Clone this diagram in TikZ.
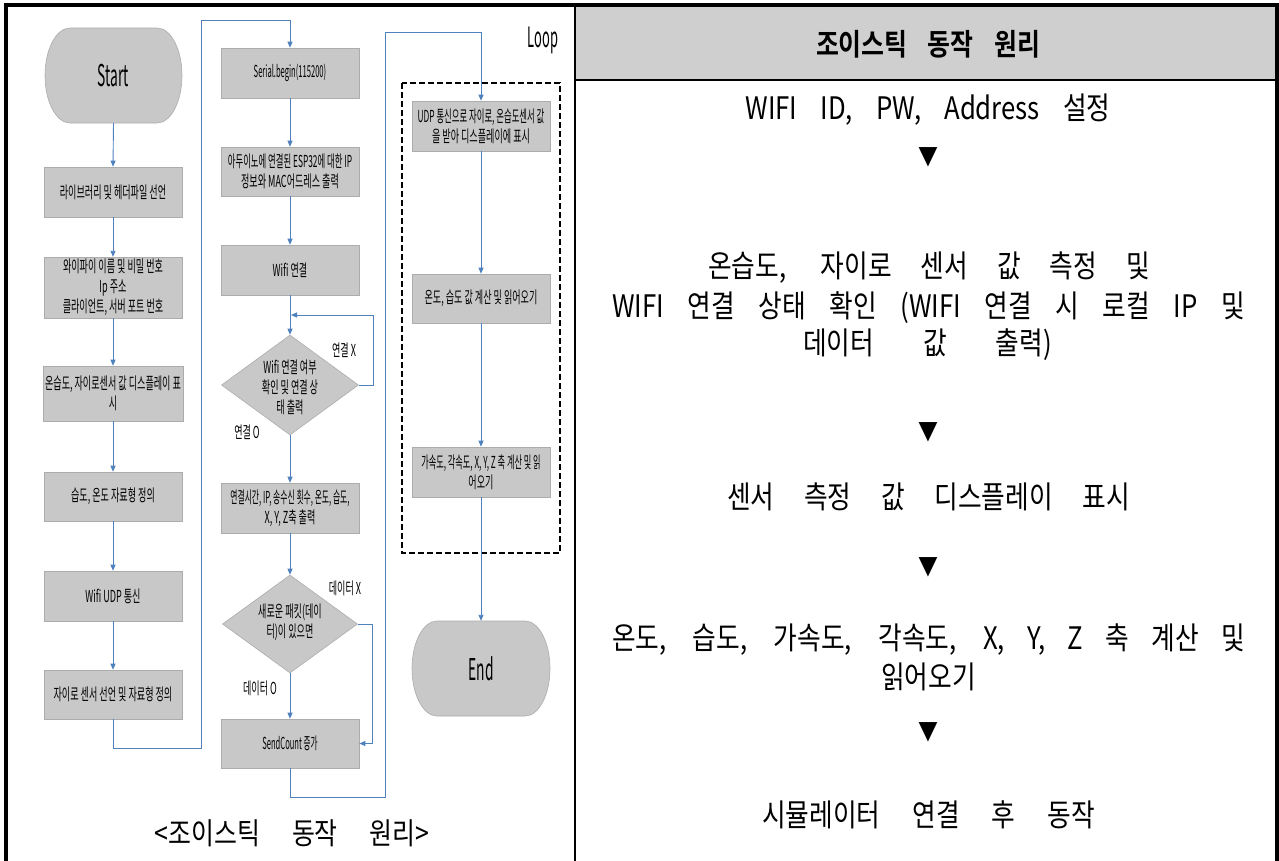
\documentclass[tikz,border=0pt]{standalone}
\usepackage{fontspec}
\usetikzlibrary{arrows.meta,shapes.geometric}
\newfontfamily\rfont[FakeStretch=0.83]{Noto Sans CJK KR}
\newfontfamily\rbold[FakeStretch=0.83]{Noto Sans CJK KR Bold}
\newfontfamily\fcfont[FakeStretch=0.55]{Noto Sans CJK KR}
\newfontfamily\fclat[FakeStretch=0.46]{Noto Sans CJK KR}
\definecolor{hdrgray}{RGB}{207,207,207}
\definecolor{boxgray}{RGB}{200,200,200}
\definecolor{boxedge}{RGB}{172,172,172}
\definecolor{conblue}{RGB}{79,129,189}
\newcommand{\jline}[2]{\makebox[#1pt][s]{#2}}
\tikzset{
  fcbox/.style={rectangle, fill=boxgray, draw=boxedge, line width=0.6pt,
    minimum width=138pt, minimum height=50pt, inner sep=2pt, align=center,
    font=\fcfont\fontsize{16.5}{20}\selectfont},
  fcshape/.style={fill=boxgray, draw=boxedge, line width=0.6pt},
  dia/.style={diamond, fill=boxgray, draw=boxedge, line width=0.6pt, inner sep=0pt},
  fctext/.style={align=center, inner sep=0pt, font=\fcfont\fontsize{16.5}{20}\selectfont},
  bigtext/.style={inner sep=0pt, font=\fclat\fontsize{30}{32}\selectfont},
  conn/.style={draw=conblue, line width=0.9pt, -{Triangle[length=6pt,width=5pt]}},
  rtext/.style={inner sep=0pt, font=\rfont\fontsize{31}{34}\selectfont},
  rtri/.style={inner sep=0pt, font=\rfont\fontsize{24}{26}\selectfont},
}
\begin{document}
\begin{tikzpicture}[x=1pt,y=-1pt]
\useasboundingbox (0,0) rectangle (1279,860);
% frame
\fill[hdrgray] (575,5) rectangle (1277,80);
\draw[line width=2pt] (575,80) -- (1277,80);
\draw[line width=2pt] (575,5) -- (575,862);
\draw[line width=3.5pt] (6,862) -- (6,5) -- (1277,5) -- (1277,862);

% ---------- column 1 ----------
\draw[fcshape] (70,28) -- (157,28) arc[start angle=-90,end angle=90,x radius=25,y radius=47.5]
  -- (70,123) arc[start angle=90,end angle=270,x radius=25,y radius=47.5] -- cycle;
\node[bigtext, minimum width=137pt, minimum height=95pt] (start) at (113.5,75.5) {Start};
\node[fcbox] (b1) at (113,192) {라이브러리 및 헤더파일 선언};
\node[fcbox, minimum height=55pt] (b2) at (113,287.5) {와이파이 이름 및 비밀 번호\\Ip 주소\\클라이언트, 서버 포트 번호};
\node[fcbox, minimum height=55pt] (b3) at (113,393.5) {온습도, 자이로센서 값 디스플레이 표\\시};
\node[fcbox, minimum height=49pt] (b4) at (113,496.5) {습도, 온도 자료형 정의};
\node[fcbox] (b5) at (113,596) {Wifi UDP 통신};
\node[fcbox, minimum height=49pt] (b6) at (113,694.5) {자이로 센서 선언 및 자료형 정의};

% ---------- column 2 ----------
\node[fcbox, font=\fclat\fontsize{16.5}{20}\selectfont] (c1) at (290,73) {Serial.begin(115200)};
\node[fcbox, minimum height=49pt] (c2) at (290,171.5) {\scalebox{0.92}[1]{아두이노에 연결된 ESP32에 대한 IP}\\정보와 MAC어드레스 출력};
\node[fcbox] (c3) at (290,270) {Wifi 연결};
\node[dia, minimum width=137pt, minimum height=100pt] (d1) at (290,385) {};
\node[fctext] (d1t) at (290,387) {Wifi 연결 여부\\확인 및 연결 상\\태 출력};
\node[fcbox] (c4) at (290,508) {\scalebox{0.86}[1]{연결시간, IP, 송수신 횟수, 온도, 습도,}\\X, Y, Z축 출력};
\node[dia, minimum width=135pt, minimum height=98pt] (d2) at (290,624) {};
\node[fctext] (d2t) at (290,622) {새로운 패킷(데이\\터)이 있으면};
\node[fcbox, minimum height=49pt, font=\fclat\fontsize{16.5}{20}\selectfont] (c5) at (290,743.5) {SendCount 증가};
\node[fctext] (l1) at (344,350) {연결 X};
\node[fctext] (l2) at (247,432) {연결 O};
\node[fctext] (l3) at (345,588) {데이터 X};
\node[fctext] (l4) at (260,688) {데이터 O};

% ---------- column 3 ----------
\draw[line width=1.6pt, dash pattern=on 6pt off 3pt] (402,83) rectangle (560,553);
\node[inner sep=0pt, font=\fclat\fontsize{28}{30}\selectfont] (loop) at (543,40) {Loop};
\node[fcbox] (e1) at (481,126) {\scalebox{0.92}[1]{UDP 통신으로 자이로, 온습도센서 값}\\을 받아 디스플레이에 표시};
\node[fcbox, minimum height=49pt] (e2) at (481,298.5) {온도, 습도 값 계산 및 읽어오기};
\node[fcbox] (e3) at (481,472) {\scalebox{0.9}[1]{가속도, 각속도, X, Y, Z 축 계산 및 읽}\\어오기};
\draw[fcshape] (437,621) -- (525,621) arc[start angle=-90,end angle=90,x radius=25,y radius=47.5]
  -- (437,716) arc[start angle=90,end angle=270,x radius=25,y radius=47.5] -- cycle;
\node[bigtext, minimum width=138pt, minimum height=95pt] (endn) at (481,668.5) {End};

% ---------- connectors ----------
\coordinate (r1) at (201,748);
\coordinate (r2) at (201,20);
\coordinate (r3) at (373,315);
\coordinate (j1) at (291,315);
\coordinate (r4) at (372,624);
\coordinate (r5) at (385,797);
\coordinate (r6) at (385,32);
\draw[conn] (start.south) -- (b1.north);
\draw[conn] (b1.south) -- (b2.north);
\draw[conn] (b2.south) -- (b3.north);
\draw[conn] (b3.south) -- (b4.north);
\draw[conn] (b4.south) -- (b5.north);
\draw[conn] (b5.south) -- (b6.north);
\draw[conn] (b6.south) |- (r1) -- (r2) -| (c1.north);
\draw[conn] (c1.south) -- (c2.north);
\draw[conn] (c2.south) -- (c3.north);
\draw[conn] (c3.south) -- (d1.north);
\draw[conn] (d1.east) -| (r3) -- (j1);
\draw[conn] (d1.south) -- (c4.north);
\draw[conn] (c4.south) -- (d2.north);
\draw[conn] (d2.south) -- (c5.north);
\draw[conn] (d2.east) -- (r4) |- (c5.east);
\draw[conn] (c5.south) |- (r5) -- (r6) -| (e1.north);
\draw[conn] (e1.south) -- (e2.north);
\draw[conn] (e2.south) -- (e3.north);
\draw[conn] (e3.south) -- (endn.north);

\node[inner sep=0pt, font=\rfont\fontsize{30}{32}\selectfont] (cap) at (292,833) {\jline{275}{<조이스틱 동작 원리>}};

% ---------- right table ----------
\node[inner sep=0pt, font=\rbold\fontsize{30}{32}\selectfont] (hdr) at (928,44) {\jline{224}{조이스틱 동작 원리}};
\node[rtext] (t1) at (928,110) {\jline{365}{WIFI ID, PW, Address 설정}};
\node[rtri] (a1) at (928,157) {▼};
\node[rtext] (t2) at (929,268) {\jline{442}{온습도, 자이로 센서 값 측정 및}};
\node[rtext] (t3) at (928.5,308) {\jline{633}{WIFI 연결 상태 확인 (WIFI 연결 시 로컬 IP 및}};
\node[rtext] (t4) at (927.5,345) {\jline{249}{데이터 값 출력)}};
\node[rtri] (a2) at (928,432) {▼};
\node[rtext] (t5) at (928.5,497) {\jline{403}{센서 측정 값 디스플레이 표시}};
\node[rtri] (a3) at (928,567) {▼};
\node[rtext] (t6) at (928.5,640) {\jline{633}{온도, 습도, 가속도, 각속도, X, Y, Z 축 계산 및}};
\node[rtext] (t7) at (928.5,677) {읽어오기};
\node[rtri] (a4) at (928,732) {▼};
\node[rtext] (t8) at (928.5,815) {\jline{333}{시뮬레이터 연결 후 동작}};
\end{tikzpicture}
\end{document}
